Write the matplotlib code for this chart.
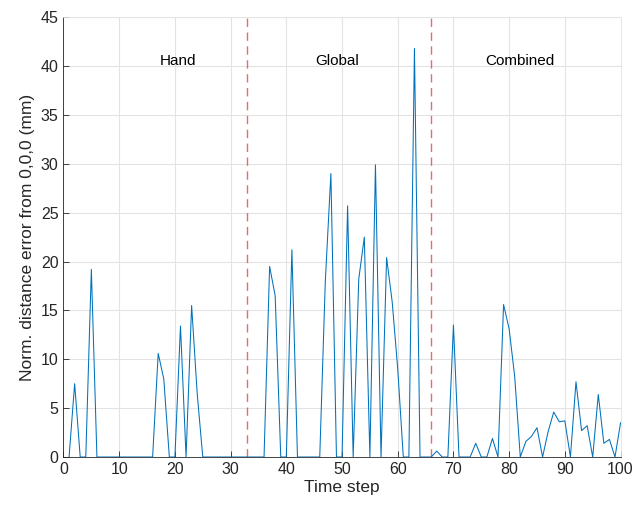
import matplotlib
matplotlib.use("Agg")
import matplotlib.pyplot as plt
import numpy as np

# error per time step (mm), one value per step 1..100
time_step = np.arange(1, 101)
error_mm = [
    0, 7.5, 0, 0, 19.2, 0, 0, 0, 0, 0,
    0, 0, 0, 0, 0, 0, 10.6, 8.0, 0, 0,
    13.4, 0, 15.5, 6.5, 0, 0, 0, 0, 0, 0,
    0, 0, 0, 0, 0, 0, 19.5, 16.5, 0, 0,
    21.2, 0, 0, 0, 0, 0, 18.0, 29.0, 0, 0,
    25.7, 0, 18.2, 22.5, 0, 29.9, 0, 20.4, 15.9, 9.0,
    0, 0, 41.8, 0, 0, 0, 0.6, 0, 0, 13.5,
    0, 0, 0, 1.4, 0, 0, 1.9, 0, 15.6, 13.1,
    8.2, 0, 1.6, 2.1, 3.0, 0, 2.6, 4.6, 3.6, 3.7,
    0, 7.7, 2.7, 3.2, 0, 6.4, 1.4, 1.8, 0, 3.5,
]

# phase boundaries and labels
boundaries = [33, 66]
phase_names = ["Hand", "Global", "Combined"]
phase_x = [20.5, 49.2, 82]
phase_y = 40.5

plt.rcParams["font.family"] = ["Liberation Sans", "DejaVu Sans"]

fig = plt.figure(figsize=(6.44, 5.12), dpi=100)
ax = fig.add_axes([0.0986, 0.1074, 0.865, 0.859])

ax.plot(time_step, error_mm, color="#0072BD", lw=0.75, zorder=3)
for b in boundaries:
    ax.axvline(b, color="#e55a60", lw=1.0, ls=(0, (6, 4)), alpha=0.9, zorder=2)
for name, xt in zip(phase_names, phase_x):
    ax.text(xt, phase_y, name, ha="center", va="center", fontsize=11)

ax.set_xlim(0, 100)
ax.set_ylim(0, 45)
ax.set_xticks(np.arange(0, 101, 10))
ax.set_yticks(np.arange(0, 46, 5))
ax.grid(True, color="#e3e3e3", lw=0.8)
ax.set_axisbelow(True)
ax.tick_params(direction="in", length=4, width=0.6, colors="#262626",
               labelsize=11.5, top=False, right=False)
for s in ax.spines.values():
    s.set_color("#262626")
    s.set_linewidth(0.6)
ax.spines["top"].set_color("#e3e3e3")
ax.spines["right"].set_color("#e3e3e3")

ax.set_xlabel("Time step", fontsize=12.5, color="#262626", labelpad=2)
ax.set_ylabel("Norm. distance error from 0,0,0 (mm)", fontsize=12.5, color="#262626", labelpad=4)

fig.savefig("out.png", dpi=100, facecolor="white")
